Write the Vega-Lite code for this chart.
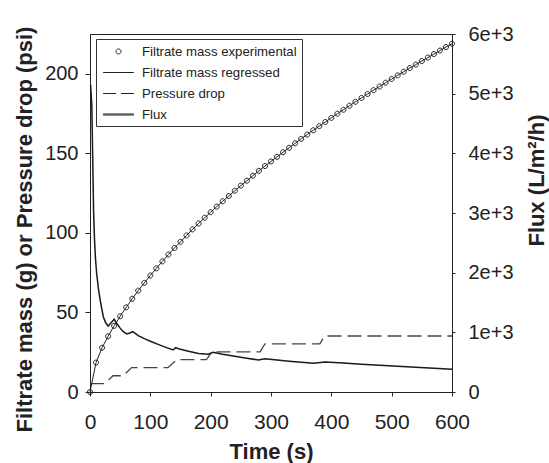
{
  "$schema": "https://vega.github.io/schema/vega-lite/v6.json",
  "width": 362,
  "height": 358,
  "autosize": {"type": "none"},
  "padding": {"left": 90, "top": 34, "right": 97, "bottom": 71},
  "background": "white",
  "config": {
    "view": {"stroke": "#222", "strokeWidth": 1},
    "font": "Liberation Sans",
    "axis": {
      "grid": false,
      "domainColor": "#222",
      "tickColor": "#222",
      "labelColor": "#222",
      "titleColor": "#222",
      "labelFont": "Liberation Sans",
      "titleFont": "Liberation Sans",
      "labelFontSize": 20,
      "titleFontSize": 22,
      "titleFontWeight": "bold"
    }
  },
  "datasets": {
    "mass": [
      {"t": 0, "m": 0}, {"t": 10, "m": 18.5}, {"t": 20, "m": 27.8}, {"t": 30, "m": 35.0}, {"t": 40, "m": 41.6},
      {"t": 50, "m": 47.6}, {"t": 60, "m": 53.2}, {"t": 70, "m": 58.6}, {"t": 80, "m": 63.7}, {"t": 90, "m": 68.6},
      {"t": 100, "m": 73.2}, {"t": 110, "m": 77.7}, {"t": 120, "m": 82.1}, {"t": 130, "m": 86.4}, {"t": 140, "m": 90.5},
      {"t": 150, "m": 94.4}, {"t": 160, "m": 98.4}, {"t": 170, "m": 102.2}, {"t": 180, "m": 105.9}, {"t": 190, "m": 109.5},
      {"t": 200, "m": 113.0}, {"t": 210, "m": 116.5}, {"t": 220, "m": 119.9}, {"t": 230, "m": 123.2}, {"t": 240, "m": 126.5},
      {"t": 250, "m": 129.7}, {"t": 260, "m": 132.8}, {"t": 270, "m": 135.9}, {"t": 280, "m": 139.0}, {"t": 290, "m": 142.0},
      {"t": 300, "m": 144.9}, {"t": 310, "m": 147.8}, {"t": 320, "m": 150.7}, {"t": 330, "m": 153.5}, {"t": 340, "m": 156.3},
      {"t": 350, "m": 159.1}, {"t": 360, "m": 161.8}, {"t": 370, "m": 164.5}, {"t": 380, "m": 167.1}, {"t": 390, "m": 169.7},
      {"t": 400, "m": 172.3}, {"t": 410, "m": 174.9}, {"t": 420, "m": 177.4}, {"t": 430, "m": 179.9}, {"t": 440, "m": 182.4},
      {"t": 450, "m": 184.8}, {"t": 460, "m": 187.3}, {"t": 470, "m": 189.7}, {"t": 480, "m": 192.0}, {"t": 490, "m": 194.4},
      {"t": 500, "m": 196.7}, {"t": 510, "m": 199.0}, {"t": 520, "m": 201.3}, {"t": 530, "m": 203.6}, {"t": 540, "m": 205.8},
      {"t": 550, "m": 208.0}, {"t": 560, "m": 210.2}, {"t": 570, "m": 212.4}, {"t": 580, "m": 214.6}, {"t": 590, "m": 216.8},
      {"t": 600, "m": 218.9}
    ],
    "pressure": [
      {"t": 0, "p": 5.3}, {"t": 25, "p": 5.3}, {"t": 38, "p": 10.2}, {"t": 55, "p": 10.2}, {"t": 69, "p": 15.3},
      {"t": 129, "p": 15.3}, {"t": 144, "p": 20.4}, {"t": 193, "p": 20.4}, {"t": 202, "p": 25.2}, {"t": 282, "p": 25.2},
      {"t": 290, "p": 30.3}, {"t": 381, "p": 30.3}, {"t": 389, "p": 35.2}, {"t": 600, "p": 35.2}
    ],
    "flux": [
      {"t": 1, "f": 5150}, {"t": 3, "f": 4800}, {"t": 4.5, "f": 3900}, {"t": 6, "f": 3000}, {"t": 7.5, "f": 2550},
      {"t": 9, "f": 2250}, {"t": 11, "f": 1990}, {"t": 14, "f": 1730}, {"t": 17, "f": 1530}, {"t": 22, "f": 1262},
      {"t": 26, "f": 1160}, {"t": 30, "f": 1106}, {"t": 35, "f": 1160}, {"t": 40, "f": 1218}, {"t": 45, "f": 1140},
      {"t": 50, "f": 1070}, {"t": 55, "f": 1010}, {"t": 61, "f": 972}, {"t": 66, "f": 990}, {"t": 71, "f": 1011},
      {"t": 80, "f": 945}, {"t": 90, "f": 895}, {"t": 102, "f": 843}, {"t": 115, "f": 790}, {"t": 128, "f": 740},
      {"t": 138, "f": 704}, {"t": 142, "f": 743}, {"t": 150, "f": 715}, {"t": 165, "f": 680}, {"t": 180, "f": 647},
      {"t": 196, "f": 632}, {"t": 204, "f": 665}, {"t": 220, "f": 632}, {"t": 240, "f": 598}, {"t": 260, "f": 565},
      {"t": 279, "f": 537}, {"t": 290, "f": 558}, {"t": 310, "f": 535}, {"t": 330, "f": 515}, {"t": 350, "f": 497},
      {"t": 370, "f": 480}, {"t": 390, "f": 503}, {"t": 420, "f": 486}, {"t": 450, "f": 467}, {"t": 480, "f": 448},
      {"t": 510, "f": 430}, {"t": 540, "f": 413}, {"t": 570, "f": 396}, {"t": 600, "f": 380}
    ]
  },
  "encoding": {
    "x": {
      "field": "t",
      "type": "quantitative",
      "scale": {"domain": [0, 600], "nice": false},
      "axis": {
        "title": "Time (s)",
        "values": [0, 100, 200, 300, 400, 500, 600],
        "tickSize": 4,
        "labelPadding": 15,
        "labelFontSize": 21,
        "labelFlush": false,
        "titleY": 66,
        "titleBaseline": "alphabetic"
      }
    }
  },
  "layer": [
    {
      "layer": [
        {
          "data": {"name": "pressure"},
          "mark": {"type": "line", "color": "#444", "strokeWidth": 1.3, "strokeDash": [14, 6]},
          "encoding": {
            "y": {
              "field": "p",
              "type": "quantitative",
              "scale": {"domain": [0, 225], "nice": false},
              "axis": {
                "title": "Filtrate mass (g) or Pressure drop (psi)",
                "values": [0, 50, 100, 150, 200],
                "tickSize": 5,
                "labelPadding": 7,
                "titleX": -59,
                "titleY": 195,
                "titleBaseline": "alphabetic"
              }
            }
          }
        },
        {
          "data": {"name": "mass"},
          "mark": {"type": "line", "color": "#222", "strokeWidth": 1},
          "encoding": {
            "y": {
              "field": "m",
              "type": "quantitative",
              "scale": {"domain": [0, 225], "nice": false},
              "axis": {
                "title": "Filtrate mass (g) or Pressure drop (psi)",
                "values": [0, 50, 100, 150, 200],
                "tickSize": 5,
                "labelPadding": 7,
                "titleX": -59,
                "titleY": 195,
                "titleBaseline": "alphabetic"
              }
            }
          }
        },
        {
          "data": {"name": "mass"},
          "mark": {"type": "point", "filled": false, "size": 196, "strokeWidth": 1, "color": "#222", "opacity": 1},
          "encoding": {
            "y": {
              "field": "m",
              "type": "quantitative",
              "scale": {"domain": [0, 225], "nice": false},
              "axis": {
                "title": "Filtrate mass (g) or Pressure drop (psi)",
                "values": [0, 50, 100, 150, 200],
                "tickSize": 5,
                "labelPadding": 7,
                "titleX": -59,
                "titleY": 195,
                "titleBaseline": "alphabetic"
              }
            },
            "shape": {
              "datum": "Filtrate mass experimental",
              "type": "nominal",
              "scale": {
                "domain": ["Filtrate mass experimental", "Filtrate mass regressed", "Pressure drop", "Flux"],
                "range": [
                  "M0.36,0A0.36,0.36,0,1,1,-0.36,0A0.36,0.36,0,1,1,0.36,0Z",
                  "M-2.2,0H2.2",
                  "M-2.2,0H-0.36M0.36,0H2.2",
                  "M-2.2,-0.07H2.2M-2.2,0.07H2.2"
                ]
              },
              "legend": {
                "orient": "none",
                "legendX": 6,
                "legendY": 5,
                "title": null,
                "strokeColor": "#333",
                "padding": 5,
                "labelFont": "Liberation Sans",
                "labelFontSize": 13.2,
                "labelColor": "#222",
                "labelLimit": 300,
                "rowPadding": 7,
                "symbolOffset": 10,
                "labelOffset": 16,
                "symbolSize": 196,
                "symbolStrokeWidth": 1,
                "symbolStrokeColor": "#222",
                "symbolFillColor": "transparent",
                "labelExpr": "datum.label == 'Pressure drop' ? '\u00a0\u00a0\u00a0\u00a0Pressure drop' : datum.label"
              }
            }
          }
        }
      ]
    },
    {
      "data": {"name": "flux"},
      "mark": {"type": "line", "color": "#1a1a1a", "strokeWidth": 1.5},
      "encoding": {
        "y": {
          "field": "f",
          "type": "quantitative",
          "scale": {"domain": [0, 6000], "nice": false},
          "axis": {
            "orient": "right",
            "title": "Flux (L/m²/h)",
            "values": [0, 1000, 2000, 3000, 4000, 5000, 6000],
            "labelExpr": "datum.value == 0 ? '0' : (datum.value / 1000) + 'e+3'",
            "tickSize": 3,
            "labelPadding": 13,
            "titleAngle": 270,
            "titleX": 91,
            "titleY": 146,
            "titleBaseline": "alphabetic"
          }
        }
      }
    }
  ],
  "resolve": {"scale": {"y": "independent"}}
}
